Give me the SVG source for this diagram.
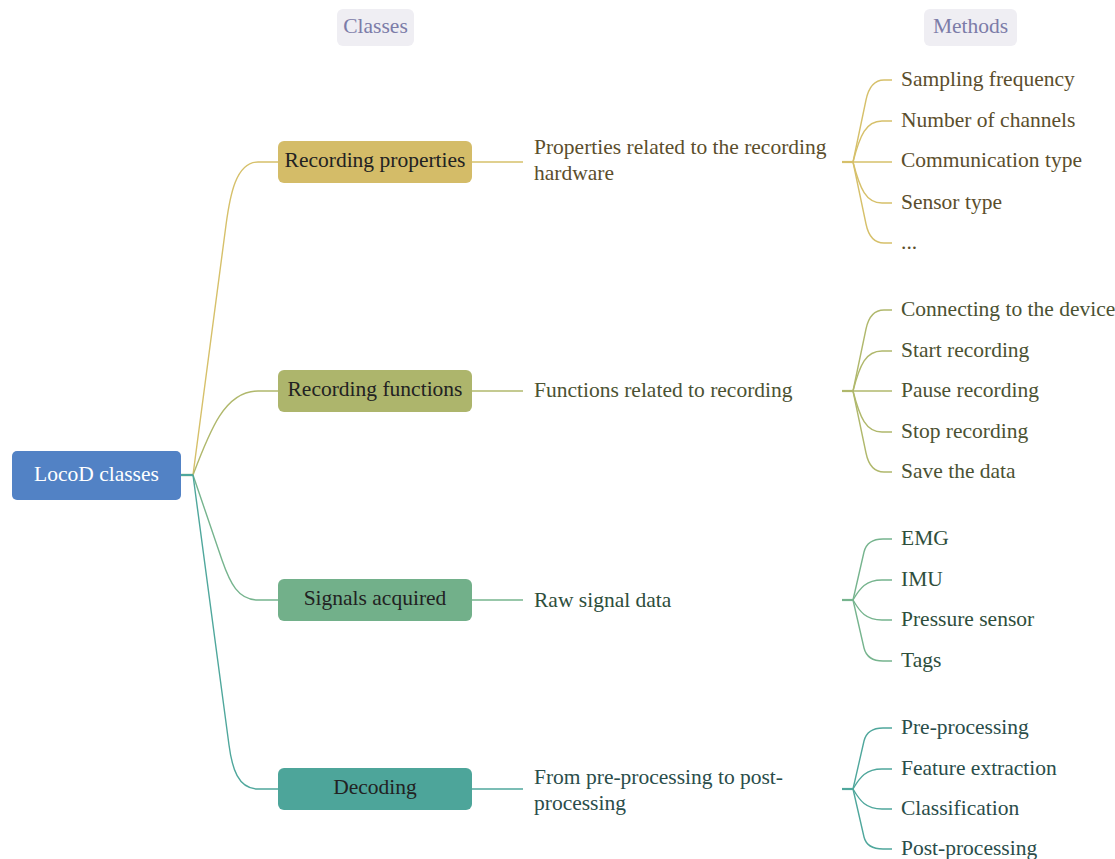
<svg xmlns="http://www.w3.org/2000/svg" width="1115" height="859" viewBox="0 0 1115 859">
<style>
text{font-family:"Liberation Serif","Times New Roman",serif;font-size:21.5px}
.hdr rect{fill:#efeef3}
.hdr text{fill:#7c7ca8;text-anchor:middle}
.box text{fill:#222;text-anchor:middle}
.c path{fill:none;stroke-width:1.4}
.c .thick{stroke-width:2.2}
.g1{stroke:#d6c06a}.g2{stroke:#b0b86c}.g3{stroke:#76b48e}.g4{stroke:#4fa79c}
.t1{fill:#5b4e2c}.t2{fill:#4b5232}.t3{fill:#2e4e3b}.t4{fill:#2a4d4a}
</style>
<g id="connectors" class="c">
<path class="g1 thick" d="M181,475 H193"/>
<path class="g1" d="M193,475 L226,225 C230,195 236,162 258,162 H278"/>
<path class="g2" d="M193,475 C210,430 225,391 258,391 H278"/>
<path class="g3" d="M193,475 L222,560 C230,583 238,600 258,600 H278"/>
<path class="g4" d="M193,475 L229,745 C232,768 238,789 258,789 H278"/>
<path class="g4 thick" d="M181,475 H193"/>
<path class="g1" d="M472,162 H523"/>
<path class="g2" d="M472,391 H523"/>
<path class="g3" d="M472,600 H523"/>
<path class="g4" d="M472,789 H523"/>
<path class="g1 thick" d="M842,162 H853"/>
<path class="g1" d="M853,162 L866,100 C868.5,88 874,80 884,80 H892"/>
<path class="g1" d="M853,162 C860,135 866,121 882,121 H892"/>
<path class="g1" d="M853,162 H892"/>
<path class="g1" d="M853,162 C860,189 866,203 882,203 H892"/>
<path class="g1" d="M853,162 L866,224 C868.5,236 874,243 884,243 H892"/>
<path class="g2 thick" d="M842,391 H853"/>
<path class="g2" d="M853,391 L866,329 C868.5,317 874,310 884,310 H892"/>
<path class="g2" d="M853,391 C860,364 866,351 882,351 H892"/>
<path class="g2" d="M853,391 H892"/>
<path class="g2" d="M853,391 C860,418 866,432 882,432 H892"/>
<path class="g2" d="M853,391 L866,453 C868.5,465 874,472 884,472 H892"/>
<path class="g3 thick" d="M842,600 H853"/>
<path class="g3" d="M853,600 L864,552 C866,544 872,539 883,539 H892"/>
<path class="g3" d="M853,600 C860,588 866,580 882,580 H892"/>
<path class="g3" d="M853,600 C860,612 866,620 882,620 H892"/>
<path class="g3" d="M853,600 L864,648 C866,656 872,661 883,661 H892"/>
<path class="g4 thick" d="M842,789 H853"/>
<path class="g4" d="M853,789 L864,741 C866,733 872,728 883,728 H892"/>
<path class="g4" d="M853,789 C860,777 866,769 882,769 H892"/>
<path class="g4" d="M853,789 C860,801 866,809 882,809 H892"/>
<path class="g4" d="M853,789 L864,837 C866,845 872,849 883,849 H892"/>
</g>
<g id="hdr-classes" class="hdr"><rect x="337" y="9" width="77" height="37" rx="6"/><text x="375.5" y="33">Classes</text></g>
<g id="hdr-methods" class="hdr"><rect x="924" y="9" width="93" height="37" rx="6"/><text x="970.5" y="33">Methods</text></g>
<g id="root" class="box"><rect x="12" y="451" width="169" height="49" rx="5" fill="#5282c5"/><text x="96.5" y="481" style="fill:#fff">LocoD classes</text></g>
<g id="recording-properties" class="box"><rect x="278" y="141" width="194" height="42" rx="6" fill="#d4bc68"/><text x="375" y="167">Recording properties</text></g>
<g id="recording-functions" class="box"><rect x="278" y="370" width="194" height="42" rx="6" fill="#adb56c"/><text x="375" y="396">Recording functions</text></g>
<g id="signals-acquired" class="box"><rect x="278" y="579" width="194" height="42" rx="6" fill="#72b08a"/><text x="375" y="605">Signals acquired</text></g>
<g id="decoding" class="box"><rect x="278" y="768" width="194" height="42" rx="6" fill="#4da59a"/><text x="375" y="794">Decoding</text></g>
<g id="desc-properties" class="t1"><text x="534" y="154">Properties related to the recording</text><text x="534" y="180">hardware</text></g>
<g id="desc-functions" class="t2"><text x="534" y="397">Functions related to recording</text></g>
<g id="desc-signals" class="t3"><text x="534" y="607">Raw signal data</text></g>
<g id="desc-decoding" class="t4"><text x="534" y="784">From pre-processing to post-</text><text x="534" y="810">processing</text></g>
<g id="m-sampling" class="t1"><text x="901" y="86">Sampling frequency</text></g>
<g id="m-channels" class="t1"><text x="901" y="127">Number of channels</text></g>
<g id="m-communication" class="t1"><text x="901" y="167">Communication type</text></g>
<g id="m-sensor" class="t1"><text x="901" y="209">Sensor type</text></g>
<g id="m-more" class="t1"><text x="901" y="249">...</text></g>
<g id="m-connecting" class="t2"><text x="901" y="316">Connecting to the device</text></g>
<g id="m-start" class="t2"><text x="901" y="357">Start recording</text></g>
<g id="m-pause" class="t2"><text x="901" y="397">Pause recording</text></g>
<g id="m-stop" class="t2"><text x="901" y="438">Stop recording</text></g>
<g id="m-save" class="t2"><text x="901" y="478">Save the data</text></g>
<g id="m-emg" class="t3"><text x="901" y="545">EMG</text></g>
<g id="m-imu" class="t3"><text x="901" y="586">IMU</text></g>
<g id="m-pressure" class="t3"><text x="901" y="626">Pressure sensor</text></g>
<g id="m-tags" class="t3"><text x="901" y="667">Tags</text></g>
<g id="m-pre" class="t4"><text x="901" y="734">Pre-processing</text></g>
<g id="m-feature" class="t4"><text x="901" y="775">Feature extraction</text></g>
<g id="m-class" class="t4"><text x="901" y="815">Classification</text></g>
<g id="m-post" class="t4"><text x="901" y="855">Post-processing</text></g>
</svg>
